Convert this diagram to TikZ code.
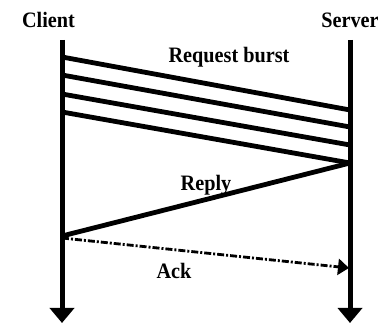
\documentclass[tikz,border=0pt]{standalone}
\usepackage{fontspec}
\setmainfont{Liberation Serif}
\newfontfamily\lblfont{Liberation Serif}[FakeStretch=0.92]
\usetikzlibrary{arrows.meta}
\begin{document}
\begin{tikzpicture}[x=1pt,y=-1pt,
  lbl/.style={font=\lblfont\bfseries\fontsize{22}{22}\selectfont, inner sep=0pt, anchor=base},
  lifeline/.style={line width=5pt, -{Triangle[length=15pt,width=24pt]}},
  msg/.style={line width=4.8pt},
  ackmsg/.style={line width=2.8pt, dash pattern=on 7pt off 2pt on 2pt off 2pt, -{Triangle[length=11pt,width=16pt]}}]
\useasboundingbox (0,0) rectangle (378,323);
% lifelines
\coordinate (ctop) at (62,40);
\coordinate (cbot) at (62,323);
\coordinate (stop) at (350,40);
\coordinate (sbot) at (350,323);
\draw[lifeline] (ctop) -- (cbot);
\draw[lifeline] (stop) -- (sbot);
% labels
\node[lbl] (client) at (48.5,28) {Client};
\node[lbl] (server) at (350,28) {Server};
\node[lbl] (req) at (229,63) {Request burst};
\node[lbl] (reply) at (206,191) {Reply};
\node[lbl] (ack) at (174,279) {Ack};
% request burst
\coordinate (c1) at (62,57);
\coordinate (c2) at (62,75);
\coordinate (c3) at (62,94);
\coordinate (c4) at (62,112);
\coordinate (s1) at (350,110);
\coordinate (s2) at (350,127);
\coordinate (s3) at (350,145);
\coordinate (s4) at (350,163);
\draw[msg] (c1) -- (s1);
\draw[msg] (c2) -- (s2);
\draw[msg] (c3) -- (s3);
\draw[msg] (c4) -- (s4);
% reply
\coordinate (cr) at (62,236);
\draw[msg] (s4) -- (cr);
% ack
\coordinate (ca) at (62,238);
\coordinate (sa) at (349,268);
\draw[ackmsg] (ca) -- (sa);
\end{tikzpicture}
\end{document}
